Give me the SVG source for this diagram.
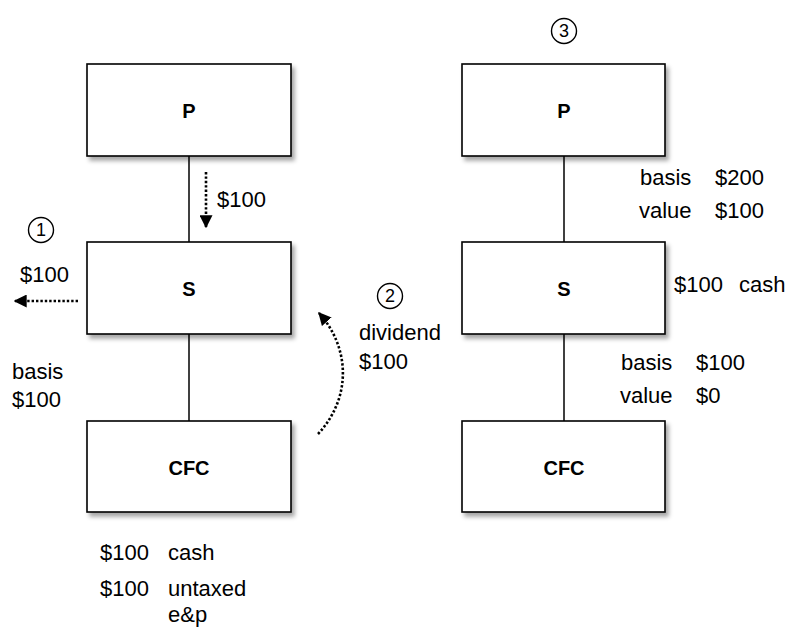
<svg xmlns="http://www.w3.org/2000/svg" width="792" height="632" viewBox="0 0 792 632">
  <style>
    .box { fill: #ffffff; stroke: #000000; stroke-width: 1.6; filter: url(#shadow); }
    .node-label { font-family: "Liberation Sans", Arial, sans-serif; font-size: 20px; font-weight: bold; text-anchor: middle; fill: #000; }
    .txt { font-family: "Liberation Sans", Arial, sans-serif; font-size: 22px; fill: #000; }
    .num { font-family: "Liberation Sans", Arial, sans-serif; font-size: 18px; text-anchor: middle; fill: #000; }
    .link { stroke: #000; stroke-width: 1.5; fill: none; }
    .flow { stroke: #000; stroke-width: 2.6; stroke-dasharray: 2.4 2; fill: none; }
    .badge { fill: #fff; stroke: #000; stroke-width: 1.4; }
  </style>
  <defs>
    <filter id="shadow" x="-10%" y="-10%" width="130%" height="140%">
      <feDropShadow dx="3" dy="4" stdDeviation="2" flood-color="#000" flood-opacity="0.35"/>
    </filter>
    <marker id="arrow" viewBox="0 0 10 10" refX="9" refY="5" markerWidth="5" markerHeight="5" markerUnits="strokeWidth" orient="auto">
      <path d="M0,0 L10,5 L0,10 Z" fill="#000"/>
    </marker>
  </defs>

  <rect width="792" height="632" fill="#ffffff"/>

  <!-- ownership links -->
  <g id="connectors">
    <line class="link" x1="189" y1="156" x2="189" y2="242"/>
    <line class="link" x1="189" y1="334" x2="189" y2="421"/>
    <line class="link" x1="564" y1="156" x2="564" y2="242"/>
    <line class="link" x1="564" y1="334" x2="564" y2="421"/>
    <!-- cash flows -->
    <line class="flow" x1="206" y1="172" x2="206" y2="227" marker-end="url(#arrow)"/>
    <line class="flow" x1="78" y1="301" x2="15" y2="301" marker-end="url(#arrow)"/>
    <path class="flow" d="M318,434 C350,400 352,350 319,313" marker-end="url(#arrow)"/>
  </g>

  <!-- left structure -->
  <g id="p-left">
    <rect class="box" x="87" y="64" width="204" height="92"/>
    <text class="node-label" x="189" y="118">P</text>
  </g>
  <g id="s-left">
    <rect class="box" x="87" y="242" width="204" height="92"/>
    <text class="node-label" x="189" y="296">S</text>
  </g>
  <g id="cfc-left">
    <rect class="box" x="87" y="421" width="204" height="91"/>
    <text class="node-label" x="189" y="475">CFC</text>
  </g>

  <!-- right structure -->
  <g id="p-right">
    <rect class="box" x="462" y="64" width="203" height="92"/>
    <text class="node-label" x="564" y="118">P</text>
  </g>
  <g id="s-right">
    <rect class="box" x="462" y="242" width="203" height="92"/>
    <text class="node-label" x="564" y="296">S</text>
  </g>
  <g id="cfc-right">
    <rect class="box" x="462" y="421" width="203" height="91"/>
    <text class="node-label" x="564" y="475">CFC</text>
  </g>

  <!-- step badges -->
  <g id="step-1">
    <circle class="badge" cx="41" cy="230" r="12.5"/>
    <text class="num" x="41" y="236">1</text>
  </g>
  <g id="step-2">
    <circle class="badge" cx="390" cy="296" r="12.5"/>
    <text class="num" x="390" y="302">2</text>
  </g>
  <g id="step-3">
    <circle class="badge" cx="564" cy="31" r="12.5"/>
    <text class="num" x="564" y="37">3</text>
  </g>

  <!-- annotations, left -->
  <g id="notes-left">
    <text class="txt" x="217" y="207">$100</text>
    <text class="txt" x="20" y="282">$100</text>
    <text class="txt" x="12" y="379">basis</text>
    <text class="txt" x="12" y="407">$100</text>
    <text class="txt" x="359" y="340">dividend</text>
    <text class="txt" x="359" y="369">$100</text>
    <text class="txt" x="100" y="560">$100</text>
    <text class="txt" x="168" y="560">cash</text>
    <text class="txt" x="100" y="596">$100</text>
    <text class="txt" x="168" y="596">untaxed</text>
    <text class="txt" x="168" y="622">e&amp;p</text>
  </g>

  <!-- annotations, right -->
  <g id="notes-right">
    <text class="txt" x="640" y="185">basis</text>
    <text class="txt" x="715" y="185">$200</text>
    <text class="txt" x="639" y="218">value</text>
    <text class="txt" x="715" y="218">$100</text>
    <text class="txt" x="674" y="292">$100</text>
    <text class="txt" x="739" y="292">cash</text>
    <text class="txt" x="621" y="370">basis</text>
    <text class="txt" x="696" y="370">$100</text>
    <text class="txt" x="620" y="403">value</text>
    <text class="txt" x="696" y="403">$0</text>
  </g>
</svg>
